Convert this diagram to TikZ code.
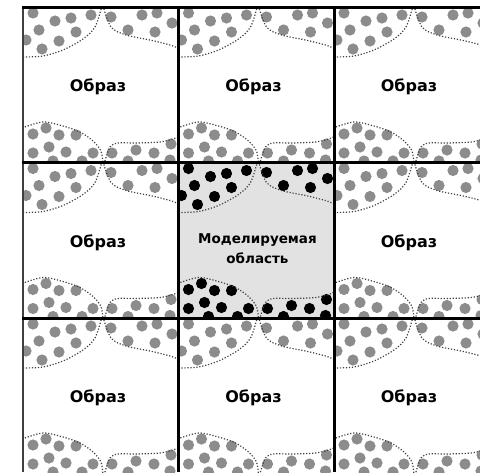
\documentclass[tikz,border=0pt]{standalone}
\usepackage{fontspec}
\setmainfont{DejaVu Sans}

\definecolor{dotgray}{RGB}{140,140,140}
\definecolor{modelbg}{RGB}{226,226,226}

\tikzset{
  cellborder/.style={line width=3pt, black},
  blobedge/.style={line width=1.2pt, black!75, dash pattern=on 1.2pt off 1.8pt},
  celllabel/.style={font=\fontsize{16}{19}\selectfont\bfseries},
  modellabel/.style={font=\fontsize{13.5}{20}\selectfont\bfseries, align=center}
}

% one periodic cell: dots of colour #1 and the dotted blob borders
\newcommand{\blobcell}[1]{%
  \begin{scope}
    \clip (0,0) rectangle (155.5,155.5);
    % top blobs
    \foreach \x/\y in {10/6, 32/14, 48/11, 68/8, 16/23, 53/25, 3/33, 36/34, 19/42,
                       88/10, 105/23, 119/8, 134/6, 149/16, 132/25}
      \fill[#1] (\x,\y) circle[radius=5.6pt];
    % bottom blobs
    \foreach \x/\y in {10/127, 23/121, 36/128, 53/128, 26/140, 10/146, 43/145, 70/146,
                       30/154, 59/154, 89/146, 113/143, 131/146, 148/137, 105/154, 147/153}
      \fill[#1] (\x,\y) circle[radius=5.6pt];
    \draw[blobedge] plot[smooth] coordinates {(79,-1) (72,20) (60,32) (40,43) (20,49) (-1,50)};
    \draw[blobedge] plot[smooth] coordinates {(80,-1) (88,20) (103,28) (127,33) (147,38) (157,42)};
    \draw[blobedge] plot[smooth] coordinates {(-1,121) (20,115) (40,119) (57,125) (70,134) (78,144) (80,157)};
    \draw[blobedge] plot[smooth] coordinates {(81,157) (87,140) (95,136) (113,136) (137,135) (150,132) (157,129)};
  \end{scope}
}

\begin{document}
\begin{tikzpicture}[x=1pt, y=-1pt]

  \useasboundingbox (0,0) rectangle (480,472);
  \clip (0,0) rectangle (480,472);

  %% Images around the model region
  \foreach \col/\row in {0/0, 1/0, 2/0, 0/1, 2/1, 0/2, 1/2, 2/2} {
    \begin{scope}[shift={({23+155.5*\col},{7+155.5*\row})}]
      \blobcell{dotgray}
      \node[celllabel] (img-\col-\row) at (75,80) {Образ};
    \end{scope}
  }

  %% Model region (centre)
  \begin{scope}[shift={(178.5,162.5)}]
    \fill[modelbg] (0,0) rectangle (155.5,155.5);
    \blobcell{black}
    \node[modellabel] (model) at (79,86) {Моделируемая\\область};
  \end{scope}

  %% Grid
  \draw[line width=1.5pt, black!75] (23,7) -- (23,472);
  \foreach \k in {1,2}
    \draw[cellborder] ({23+155.5*\k},5.5) -- ({23+155.5*\k},472);
  \foreach \k in {0,1,2}
    \draw[cellborder] (22,{7+155.5*\k}) -- (480,{7+155.5*\k});

\end{tikzpicture}
\end{document}
